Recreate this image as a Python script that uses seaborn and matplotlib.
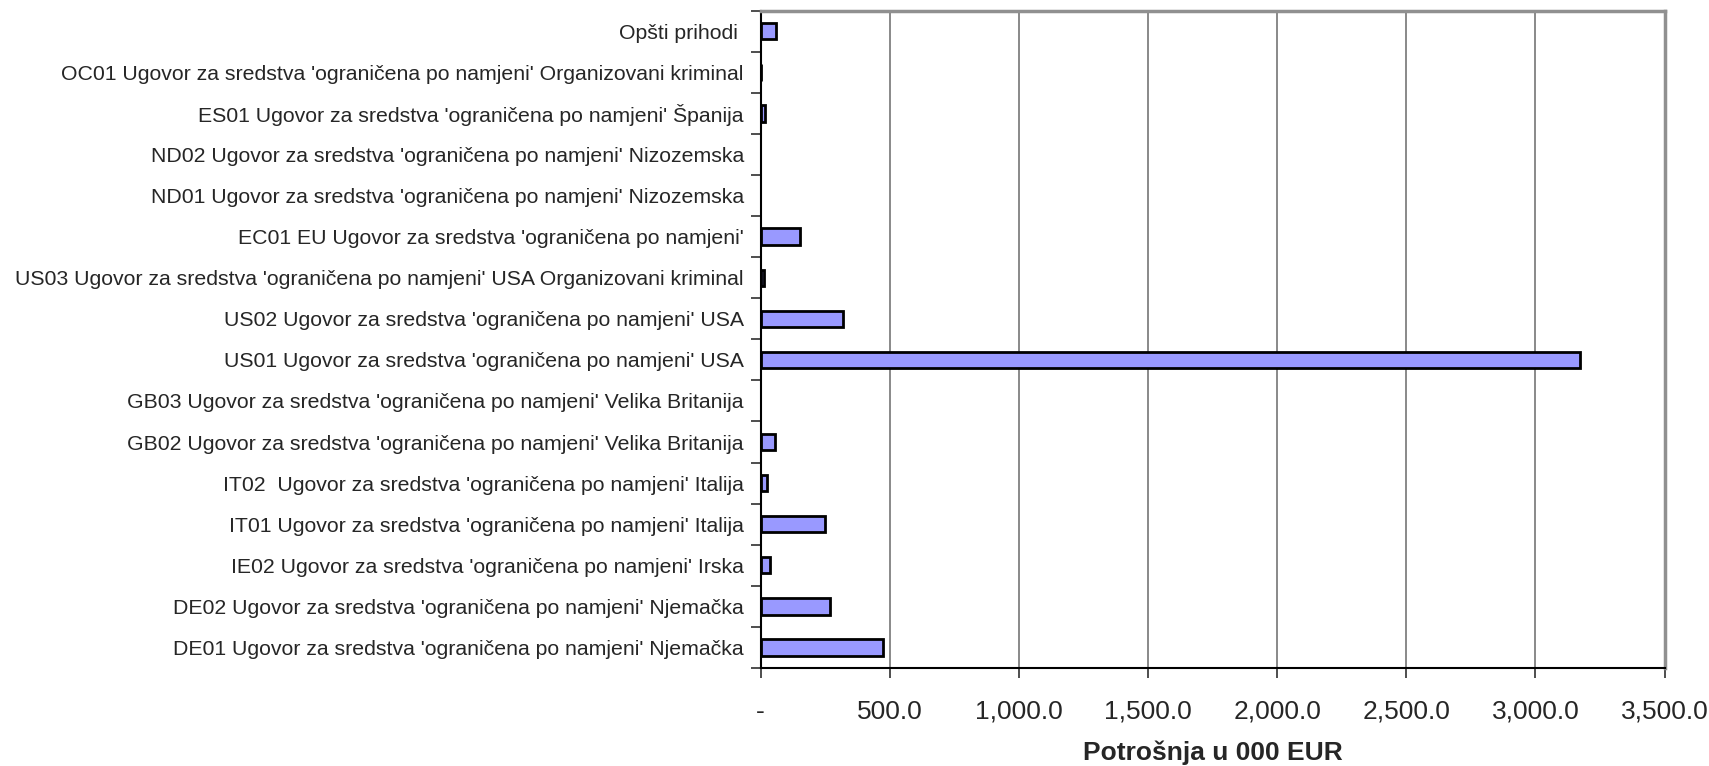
import numpy as np
import pandas as pd
import matplotlib
matplotlib.use('Agg')
import matplotlib.pyplot as plt
import seaborn as sns
from matplotlib.ticker import FuncFormatter, FixedLocator

sns.set_style('white')
plt.rcParams['font.family'] = ['Liberation Sans', 'DejaVu Sans']

categories = [
    "Opšti prihodi ",
    "OC01 Ugovor za sredstva 'ograničena po namjeni' Organizovani kriminal",
    "ES01 Ugovor za sredstva 'ograničena po namjeni' Španija",
    "ND02 Ugovor za sredstva 'ograničena po namjeni' Nizozemska",
    "ND01 Ugovor za sredstva 'ograničena po namjeni' Nizozemska",
    "EC01 EU Ugovor za sredstva 'ograničena po namjeni'",
    "US03 Ugovor za sredstva 'ograničena po namjeni' USA Organizovani kriminal",
    "US02 Ugovor za sredstva 'ograničena po namjeni' USA",
    "US01 Ugovor za sredstva 'ograničena po namjeni' USA",
    "GB03 Ugovor za sredstva 'ograničena po namjeni' Velika Britanija",
    "GB02 Ugovor za sredstva 'ograničena po namjeni' Velika Britanija",
    "IT02  Ugovor za sredstva 'ograničena po namjeni' Italija",
    "IT01 Ugovor za sredstva 'ograničena po namjeni' Italija",
    "IE02 Ugovor za sredstva 'ograničena po namjeni' Irska",
    "DE02 Ugovor za sredstva 'ograničena po namjeni' Njemačka",
    "DE01 Ugovor za sredstva 'ograničena po namjeni' Njemačka",
]
spending = [60, 3, 18, 0, 0, 151, 13, 319, 3171, 0, 56, 27, 249, 37, 270, 473]
x_ticks = [0, 500, 1000, 1500, 2000, 2500, 3000, 3500]

df = pd.DataFrame({'kategorija': categories, 'potrosnja': spending})

fig = plt.figure(figsize=(17.09, 7.66), dpi=100)
ax = fig.add_axes([0.445, 0.128, 0.529, 0.858])

sns.barplot(data=df, x='potrosnja', y='kategorija', order=categories,
            color='#9999FF', saturation=1, width=0.4,
            edgecolor='black', linewidth=2, ax=ax)

# empty rows show nothing at all
for p in ax.patches:
    if p.get_width() == 0:
        p.set_linewidth(0)

ax.set_xlim(0, 3500)
ax.set_ylim(len(categories) - 0.5, -0.5)
ax.xaxis.set_major_locator(FixedLocator(x_ticks))
ax.xaxis.set_major_formatter(FuncFormatter(lambda v, p: '-' if v == 0 else f'{v:,.1f}'))
ax.grid(axis='x', color='#808080', linewidth=1.3)
ax.set_axisbelow(True)

# category boundary ticks, Excel style
ax.yaxis.set_minor_locator(FixedLocator(np.arange(-0.5, len(categories), 1)))
ax.tick_params(axis='y', which='both', left=True)
ax.tick_params(axis='y', which='major', length=0, pad=12, labelsize=15.3)
ax.tick_params(axis='y', which='minor', length=7, width=1.3, color='#404040')
ax.tick_params(axis='x', which='major', bottom=True, length=7, width=1.3, pad=16,
               labelsize=19, color='#404040')

for side in ['left', 'bottom']:
    ax.spines[side].set_color('black')
    ax.spines[side].set_linewidth(1.5)
for side in ['top', 'right']:
    ax.spines[side].set_color('#909090')
    ax.spines[side].set_linewidth(2.5)

ax.set_ylabel('')
ax.set_xlabel('Potrošnja u 000 EUR', fontsize=19, fontweight='bold', labelpad=12)

fig.savefig('out.png', dpi=100)
